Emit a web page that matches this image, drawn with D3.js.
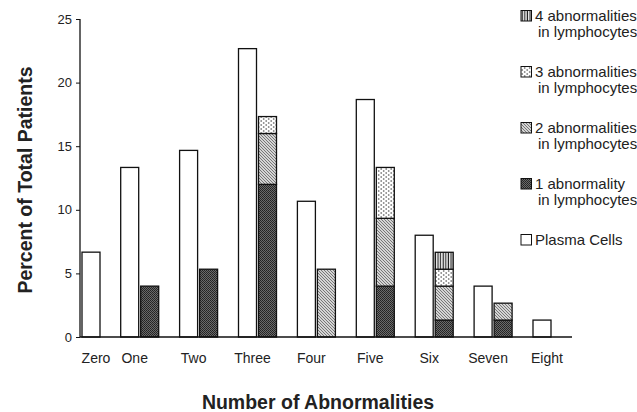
<!DOCTYPE html>
<html>
<head>
<meta charset="utf-8">
<script src="https://cdn.jsdelivr.net/npm/d3@7"></script>
<style>
  body { margin: 0; background: #fff; }
  svg { display: block; font-family: "Liberation Sans", Arial, sans-serif; }
</style>
</head>
<body>
<svg id="chart" width="637" height="412"></svg>
<script>
// data (percent of total patients)
var categories = ["Zero", "One", "Two", "Three", "Four", "Five", "Six", "Seven", "Eight"];
var plasmaCells = [6.67, 13.33, 14.67, 22.67, 10.67, 18.67, 8.0, 4.0, 1.33];
var lymph1 = [0, 4.0, 5.33, 12.0, 0, 4.0, 1.33, 1.33, 0];
var lymph2 = [0, 0, 0, 4.0, 5.33, 5.33, 2.67, 1.33, 0];
var lymph3 = [0, 0, 0, 1.33, 0, 4.0, 1.33, 0, 0];
var lymph4 = [0, 0, 0, 0, 0, 0, 1.33, 0, 0];
var yTicks = [0, 5, 10, 15, 20, 25];

var legendItems = [
  { key: "l4", lines: ["4 abnormalities", "in lymphocytes"] },
  { key: "l3", lines: ["3 abnormalities", "in lymphocytes"] },
  { key: "l2", lines: ["2 abnormalities", "in lymphocytes"] },
  { key: "l1", lines: ["1 abnormality", "in lymphocytes"] },
  { key: "plasma", lines: ["Plasma Cells"] }
];

var svg = d3.select("#chart");
var axisLeft = 80, axisBottom = 337, axisTop = 19, axisRight = 572;
var barW = 18, barGap = 2;

var x = d3.scaleBand()
  .domain(categories)
  .range([61.8, 61.8 + 58.9 * categories.length]);

var y = d3.scaleLinear().domain([0, 25]).range([axisBottom, axisTop]);

// group left edge; the first group is pushed right of the axis
function groupLeft(cat) { return Math.max(x(cat), axisLeft + 2); }

// fill patterns
var defs = svg.append("defs");

var p1 = defs.append("pattern").attr("id", "l1")
  .attr("patternUnits", "userSpaceOnUse").attr("width", 2).attr("height", 2);
p1.append("rect").attr("width", 2).attr("height", 2).attr("fill", "#6a6a6a");
p1.append("rect").attr("width", 1).attr("height", 1).attr("fill", "#222");
p1.append("rect").attr("x", 1).attr("y", 1).attr("width", 1).attr("height", 1).attr("fill", "#2a2a2a");

var p2 = defs.append("pattern").attr("id", "l2")
  .attr("patternUnits", "userSpaceOnUse").attr("width", 3).attr("height", 3);
p2.append("rect").attr("width", 3).attr("height", 3).attr("fill", "#d4d4d4");
p2.append("path").attr("d", "M-1,-1L4,4M-1,2L1,4M2,-1L4,1")
  .attr("stroke", "#777").attr("stroke-width", 1);

var p3 = defs.append("pattern").attr("id", "l3")
  .attr("patternUnits", "userSpaceOnUse").attr("width", 5).attr("height", 4);
p3.append("rect").attr("width", 5).attr("height", 4).attr("fill", "#fff");
p3.append("circle").attr("cx", 1.2).attr("cy", 1).attr("r", 0.9).attr("fill", "#888");
p3.append("circle").attr("cx", 3.7).attr("cy", 3).attr("r", 0.9).attr("fill", "#888");

var p4 = defs.append("pattern").attr("id", "l4")
  .attr("patternUnits", "userSpaceOnUse").attr("width", 2.6).attr("height", 4);
p4.append("rect").attr("width", 2.6).attr("height", 4).attr("fill", "#fff");
p4.append("rect").attr("x", 0.6).attr("width", 1.2).attr("height", 4).attr("fill", "#222");

// plasma cell bars
svg.append("g").selectAll("rect")
  .data(categories.map(function(c, i) { return { cat: c, v: plasmaCells[i] }; }))
  .enter()
  .append("rect")
  .attr("x", function(d) { return groupLeft(d.cat); })
  .attr("y", function(d) { return y(d.v); })
  .attr("width", barW)
  .attr("height", function(d) { return y(0) - y(d.v); })
  .attr("fill", "#fff")
  .attr("stroke", "#111")
  .attr("stroke-width", 1.3);

// stacked lymphocyte bars
var lymphRows = categories.map(function(c, i) {
  return { cat: c, l1: lymph1[i], l2: lymph2[i], l3: lymph3[i], l4: lymph4[i] };
});
var stack = d3.stack().keys(["l1", "l2", "l3", "l4"]);
var layers = stack(lymphRows);

svg.append("g").selectAll("g")
  .data(layers)
  .enter()
  .append("g")
  .attr("fill", function(d) { return "url(#" + d.key + ")"; })
  .selectAll("rect")
  .data(function(d) { return d.filter(function(s) { return s[1] - s[0] > 0; }); })
  .enter()
  .append("rect")
  .attr("x", function(d) { return groupLeft(d.data.cat) + barW + barGap; })
  .attr("y", function(d) { return y(d[1]); })
  .attr("width", barW)
  .attr("height", function(d) { return y(d[0]) - y(d[1]); })
  .attr("stroke", "#111")
  .attr("stroke-width", 1.3);

// y axis
var yAxis = svg.append("g").attr("transform", "translate(" + axisLeft + ",0)")
  .call(d3.axisLeft(y).tickValues(yTicks).tickSize(4).tickPadding(4));
yAxis.select(".domain").attr("stroke", "#111").attr("stroke-width", 1.3)
  .attr("d", "M0," + axisTop + "V" + axisBottom);
yAxis.selectAll(".tick line").attr("stroke", "#111");
yAxis.selectAll(".tick text").attr("font-size", 13).attr("fill", "#222")
  .attr("font-family", "Liberation Sans, Arial, sans-serif");

// x axis line
svg.append("line")
  .attr("x1", axisLeft).attr("x2", axisRight)
  .attr("y1", axisBottom).attr("y2", axisBottom)
  .attr("stroke", "#111").attr("stroke-width", 1.3);

// category labels
svg.append("g").selectAll("text")
  .data(categories)
  .enter()
  .append("text")
  .attr("x", function(d) { return groupLeft(d) + 14; })
  .attr("y", 363)
  .attr("text-anchor", "middle")
  .attr("font-size", 14)
  .attr("fill", "#222")
  .text(function(d) { return d; });

// axis titles
svg.append("text")
  .attr("x", 318).attr("y", 409)
  .attr("text-anchor", "middle")
  .attr("font-size", 19.5).attr("font-weight", "bold").attr("fill", "#222")
  .text("Number of Abnormalities");

svg.append("text")
  .attr("transform", "translate(32,180) rotate(-90)")
  .attr("text-anchor", "middle")
  .attr("font-size", 19.5).attr("font-weight", "bold").attr("fill", "#222")
  .text("Percent of Total Patients");

// legend
var legend = svg.append("g").selectAll("g")
  .data(legendItems)
  .enter()
  .append("g")
  .attr("transform", function(d, i) { return "translate(521," + (21 + i * 56) + ")"; });

legend.append("rect")
  .attr("x", 0).attr("y", -10.5)
  .attr("width", 10.5).attr("height", 10.5)
  .attr("fill", function(d) { return d.key === "plasma" ? "#fff" : "url(#" + d.key + ")"; })
  .attr("stroke", "#111").attr("stroke-width", 1);

legend.each(function(d) {
  var g = d3.select(this);
  d.lines.forEach(function(line, j) {
    g.append("text")
      .attr("x", j === 0 ? 14 : 17)
      .attr("y", j * 16)
      .attr("font-size", 15)
      .attr("fill", "#222")
      .text(line);
  });
});
</script>
</body>
</html>
